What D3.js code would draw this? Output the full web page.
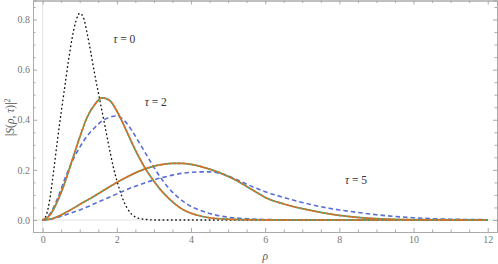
<!DOCTYPE html>
<html>
<head>
<meta charset="utf-8">
<script src="https://cdn.jsdelivr.net/npm/d3@7"></script>
<style>
  body { margin: 0; background: #fff; }
  .tick text { font-family: "Liberation Serif", serif; font-size: 10px; fill: #777; }
  .lbl { font-family: "Liberation Serif", serif; font-size: 11.5px; fill: #333; }
</style>
</head>
<body>
<div id="chart"></div>
<script>
// tau = 0 (dotted black)
var tau0Rho = [0, 0.1, 0.2, 0.3, 0.4, 0.5, 0.6, 0.7, 0.8, 0.9, 1.0, 1.1, 1.2, 1.3, 1.4, 1.5, 1.6, 1.7, 1.8, 1.9, 2.0, 2.1, 2.2, 2.3, 2.4, 2.5, 2.6, 2.8, 3.0, 3.5, 12];
var tau0Val = [0, 0.02, 0.09, 0.2, 0.32, 0.43, 0.535, 0.64, 0.73, 0.795, 0.825, 0.808, 0.745, 0.668, 0.585, 0.51, 0.435, 0.36, 0.285, 0.215, 0.158, 0.11, 0.07, 0.042, 0.023, 0.012, 0.006, 0.002, 0, 0, 0];

// tau = 2, solid (green + orange)
var tau2Rho = [0, 0.2, 0.4, 0.6, 0.8, 1.0, 1.2, 1.4, 1.6, 1.8, 2.0, 2.2, 2.4, 2.6, 2.8, 3.0, 3.2, 3.4, 3.6, 3.8, 4.0, 4.2, 4.5, 5.0, 5.5, 6.0, 7.0, 12];
var tau2Val = [0, 0.02, 0.075, 0.15, 0.24, 0.33, 0.41, 0.46, 0.487, 0.478, 0.435, 0.375, 0.31, 0.25, 0.198, 0.155, 0.117, 0.086, 0.06, 0.04, 0.027, 0.018, 0.009, 0.003, 0.001, 0.0003, 0, 0];

// tau = 2, blue dashed
var tau2bRho = [0, 0.2, 0.4, 0.6, 0.8, 1.0, 1.2, 1.4, 1.6, 1.8, 2.0, 2.2, 2.4, 2.6, 2.8, 3.0, 3.2, 3.4, 3.6, 3.8, 4.0, 4.25, 4.5, 4.75, 5.0, 5.5, 6.0, 7.0, 12];
var tau2bVal = [0, 0.025, 0.085, 0.165, 0.235, 0.29, 0.335, 0.368, 0.395, 0.41, 0.415, 0.397, 0.358, 0.31, 0.26, 0.21, 0.165, 0.127, 0.097, 0.073, 0.054, 0.038, 0.026, 0.017, 0.011, 0.005, 0.002, 0, 0];

// tau = 5, solid (green + orange)
var tau5Rho = [0, 0.25, 0.5, 0.75, 1.0, 1.25, 1.5, 1.75, 2.0, 2.25, 2.5, 2.75, 3.0, 3.25, 3.5, 3.75, 4.0, 4.25, 4.5, 4.75, 5.0, 5.25, 5.5, 5.75, 6.0, 6.5, 7.0, 7.5, 8.0, 8.5, 9.0, 9.5, 10, 12];
var tau5Val = [0, 0.005, 0.02, 0.04, 0.062, 0.083, 0.105, 0.128, 0.15, 0.17, 0.188, 0.203, 0.215, 0.222, 0.226, 0.226, 0.222, 0.214, 0.203, 0.19, 0.174, 0.156, 0.134, 0.112, 0.09, 0.064, 0.045, 0.03, 0.018, 0.01, 0.005, 0.002, 0.001, 0];

// tau = 5, blue dashed
var tau5bRho = [0, 0.25, 0.5, 0.75, 1.0, 1.25, 1.5, 1.75, 2.0, 2.25, 2.5, 2.75, 3.0, 3.25, 3.5, 3.75, 4.0, 4.25, 4.5, 4.75, 5.0, 5.25, 5.5, 5.75, 6.0, 6.5, 7.0, 7.5, 8.0, 8.5, 9.0, 9.5, 10, 10.5, 11, 12];
var tau5bVal = [0, 0.004, 0.015, 0.027, 0.04, 0.055, 0.072, 0.088, 0.104, 0.12, 0.135, 0.148, 0.16, 0.17, 0.179, 0.186, 0.19, 0.192, 0.192, 0.187, 0.176, 0.16, 0.143, 0.127, 0.113, 0.09, 0.07, 0.053, 0.04, 0.03, 0.021, 0.014, 0.009, 0.005, 0.003, 0.001];

var xMajor = [0, 2, 4, 6, 8, 10, 12];
var yMajor = [0, 0.2, 0.4, 0.6, 0.8];

var labels = [
  {t: "0", rho: 2.2, v: 0.705},
  {t: "2", rho: 3.05, v: 0.455},
  {t: "5", rho: 8.45, v: 0.145}
];

var W = 498, H = 264;
var frame = {left: 33, right: 497, top: 0.5, bottom: 232};

var x = d3.scaleLinear().domain([-0.26, 12.25]).range([frame.left, frame.right]);
var y = d3.scaleLinear().domain([-0.048, 0.876]).range([frame.bottom, frame.top]);

var svg = d3.select("#chart").append("svg")
    .attr("width", W)
    .attr("height", H);

// faint axes at origin
svg.append("line")
    .attr("x1", x(0)).attr("x2", x(0))
    .attr("y1", frame.top).attr("y2", frame.bottom)
    .attr("stroke", "#e2e2e2").attr("stroke-width", 1);
svg.append("line")
    .attr("x1", frame.left).attr("x2", frame.right)
    .attr("y1", y(0)).attr("y2", y(0))
    .attr("stroke", "#e2e2e2").attr("stroke-width", 1);

// minor tick values
var xMinor = d3.range(0, 12.01, 0.5).filter(function(d) { return d % 2 !== 0; });
var yMinor = d3.range(0, 0.86, 0.05).filter(function(d) { return Math.abs(d * 5 - Math.round(d * 5)) > 1e-6; });

function styleAxis(g) {
  g.select(".domain").attr("stroke", "#aaa");
  g.selectAll(".tick line").attr("stroke", "#aaa");
}

// bottom
svg.append("g")
    .attr("transform", "translate(0," + frame.bottom + ")")
    .call(d3.axisBottom(x).tickValues(xMajor).tickSize(-4).tickPadding(4).tickFormat(d3.format("d")))
    .call(styleAxis);
svg.append("g")
    .attr("transform", "translate(0," + frame.bottom + ")")
    .call(d3.axisBottom(x).tickValues(xMinor).tickSize(-2.5).tickFormat(""))
    .call(styleAxis);
// top
svg.append("g")
    .attr("transform", "translate(0," + frame.top + ")")
    .call(d3.axisTop(x).tickValues(xMajor).tickSize(-4).tickFormat(""))
    .call(styleAxis);
svg.append("g")
    .attr("transform", "translate(0," + frame.top + ")")
    .call(d3.axisTop(x).tickValues(xMinor).tickSize(-2.5).tickFormat(""))
    .call(styleAxis);
// left
svg.append("g")
    .attr("transform", "translate(" + frame.left + ",0)")
    .call(d3.axisLeft(y).tickValues(yMajor).tickSize(-4).tickPadding(3).tickFormat(d3.format(".1f")))
    .call(styleAxis);
svg.append("g")
    .attr("transform", "translate(" + frame.left + ",0)")
    .call(d3.axisLeft(y).tickValues(yMinor).tickSize(-2.5).tickFormat(""))
    .call(styleAxis);
// right
svg.append("g")
    .attr("transform", "translate(" + frame.right + ",0)")
    .call(d3.axisRight(y).tickValues(yMajor).tickSize(-4).tickFormat(""))
    .call(styleAxis);
svg.append("g")
    .attr("transform", "translate(" + frame.right + ",0)")
    .call(d3.axisRight(y).tickValues(yMinor).tickSize(-2.5).tickFormat(""))
    .call(styleAxis);

function pairs(rs, vs) {
  return rs.map(function(r, i) { return [r, vs[i]]; });
}

var line = d3.line()
    .x(function(d) { return x(d[0]); })
    .y(function(d) { return y(d[1]); })
    .curve(d3.curveMonotoneX);

var plot = svg.append("g");

// dotted tau=0
plot.append("path")
    .attr("d", line(pairs(tau0Rho, tau0Val)))
    .attr("fill", "none").attr("stroke", "#111")
    .attr("stroke-width", 1.4).attr("stroke-dasharray", "0.6,3.6")
    .attr("stroke-linecap", "round");

// blue dashed
[pairs(tau2bRho, tau2bVal), pairs(tau5bRho, tau5bVal)].forEach(function(d) {
  plot.append("path")
      .attr("d", line(d))
      .attr("fill", "none").attr("stroke", "#5a6ed8")
      .attr("stroke-width", 1.6).attr("stroke-dasharray", "4.5,3");
});

// green solid + orange dashed overlay
[pairs(tau2Rho, tau2Val), pairs(tau5Rho, tau5Val)].forEach(function(d) {
  plot.append("path")
      .attr("d", line(d))
      .attr("fill", "none").attr("stroke", "#4f9a6b")
      .attr("stroke-width", 1.7);
  plot.append("path")
      .attr("d", line(d))
      .attr("fill", "none").attr("stroke", "#ef6a1a")
      .attr("stroke-width", 1.6).attr("stroke-dasharray", "3,1.5");
});

// curve labels
labels.forEach(function(l) {
  var t = svg.append("text")
      .attr("class", "lbl")
      .attr("x", x(l.rho)).attr("y", y(l.v))
      .attr("text-anchor", "middle");
  t.append("tspan").attr("font-style", "italic").text("τ");
  t.append("tspan").text(" = " + l.t);
});

// axis labels
svg.append("text")
    .attr("class", "lbl")
    .attr("x", x(6)).attr("y", 260)
    .attr("text-anchor", "middle")
    .attr("font-style", "italic")
    .style("fill", "#555")
    .text("ρ");

var yl = svg.append("text")
    .attr("class", "lbl")
    .attr("transform", "translate(14," + y(0.41) + ") rotate(-90)")
    .attr("text-anchor", "middle")
    .style("fill", "#555");
yl.append("tspan").text("|");
yl.append("tspan").attr("font-style", "italic").text("S");
yl.append("tspan").text("(");
yl.append("tspan").attr("font-style", "italic").text("ρ");
yl.append("tspan").text(", ");
yl.append("tspan").attr("font-style", "italic").text("τ");
yl.append("tspan").text(")|");
yl.append("tspan").attr("dy", -4).attr("font-size", "8px").text("2");
</script>
</body>
</html>
